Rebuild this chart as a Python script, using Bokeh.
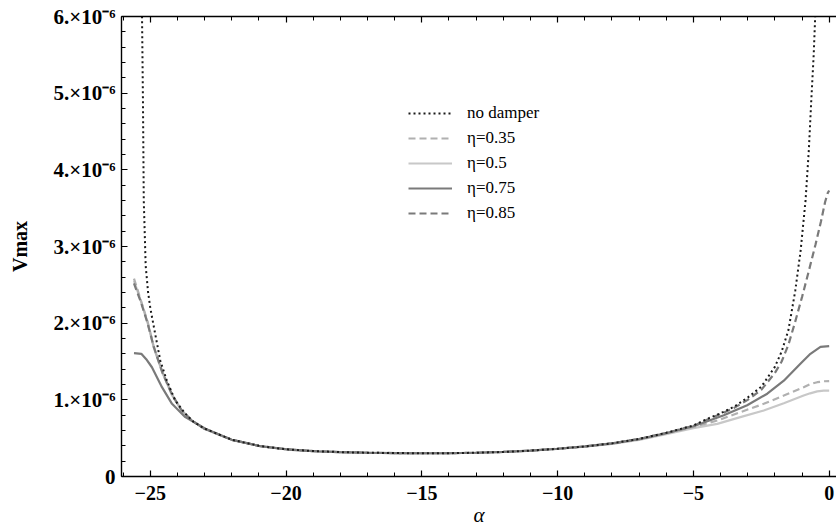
from bokeh.plotting import figure
from bokeh.models import FixedTicker, LinearAxis, Legend, LegendItem, Range1d, CustomLabelingPolicy
from bokeh.embed import file_html
from bokeh.resources import INLINE

# Vmax values are in units of 1e-6
alpha_nodamper = [-25.31, -25.27, -25.24, -25.17, -25.08, -25.00, -24.82, -24.63, -24.39, -24.08,
                  -23.71, -23.40, -23.00, -22.00, -21.00, -20.00, -19.00, -18.00, -17.00, -16.00,
                  -15.00, -14.00, -13.00, -12.00, -11.00, -10.00, -9.00, -8.00, -7.00, -6.00,
                  -5.00, -4.50, -4.00, -3.50, -3.00, -2.50, -2.00, -1.75, -1.50, -1.25,
                  -1.05, -0.87, -0.75, -0.66, -0.57, -0.52, -0.48]
vmax_nodamper = [6.20, 4.90, 3.60, 2.75, 2.40, 2.20, 1.86, 1.51, 1.25, 0.99,
                 0.82, 0.71, 0.625, 0.48, 0.40, 0.355, 0.332, 0.318, 0.31, 0.306,
                 0.303, 0.304, 0.31, 0.32, 0.338, 0.362, 0.392, 0.432, 0.49, 0.57,
                 0.665, 0.75, 0.825, 0.91, 1.03, 1.17, 1.43, 1.63, 1.91, 2.42,
                 2.95, 3.60, 4.25, 4.90, 5.50, 5.95, 6.30]

alpha_035 = [-25.60, -25.50, -25.35, -25.10, -24.87, -24.56, -24.20, -23.84, -23.47, -23.00,
             -22.00, -21.00, -20.00, -19.00, -18.00, -17.00, -16.00, -15.00, -14.00, -13.00,
             -12.00, -11.00, -10.00, -9.00, -8.00, -7.00, -6.00, -5.00, -4.12, -3.27,
             -2.41, -1.67, -0.94, -0.70, -0.44, -0.20, 0.00]
vmax_035 = [2.58, 2.47, 2.30, 2.02, 1.69, 1.37, 1.07, 0.86, 0.73, 0.62,
            0.478, 0.40, 0.355, 0.332, 0.318, 0.31, 0.306, 0.303, 0.304, 0.31,
            0.32, 0.338, 0.362, 0.39, 0.428, 0.483, 0.56, 0.645, 0.73, 0.839,
            0.948, 1.056, 1.165, 1.205, 1.23, 1.242, 1.245]

alpha_05 = [-25.60, -25.50, -25.35, -25.10, -24.87, -24.56, -24.20, -23.84, -23.47, -23.00,
            -22.00, -21.00, -20.00, -19.00, -18.00, -17.00, -16.00, -15.00, -14.00, -13.00,
            -12.00, -11.00, -10.00, -9.00, -8.00, -7.00, -6.00, -5.00, -4.12, -3.27,
            -2.41, -1.67, -0.94, -0.70, -0.44, -0.20, 0.00]
vmax_05 = [2.55, 2.45, 2.29, 2.01, 1.68, 1.36, 1.06, 0.855, 0.728, 0.62,
           0.478, 0.40, 0.355, 0.332, 0.318, 0.31, 0.306, 0.303, 0.304, 0.31,
           0.32, 0.337, 0.36, 0.388, 0.425, 0.478, 0.552, 0.63, 0.687, 0.774,
           0.861, 0.956, 1.056, 1.085, 1.11, 1.12, 1.12]

alpha_075 = [-25.60, -25.33, -25.15, -24.94, -24.57, -24.20, -23.71, -22.97, -22.00, -20.89,
             -19.79, -18.80, -18.00, -17.00, -16.00, -15.00, -14.00, -13.00, -12.00, -11.00,
             -10.00, -9.00, -8.00, -7.00, -6.00, -5.00, -4.74, -3.88, -3.02, -2.28,
             -1.67, -1.06, -0.69, -0.32, 0.00]
vmax_075 = [1.61, 1.60, 1.53, 1.425, 1.165, 0.948, 0.774, 0.622, 0.478, 0.391,
            0.348, 0.326, 0.318, 0.31, 0.306, 0.303, 0.304, 0.31, 0.32, 0.338,
            0.362, 0.392, 0.432, 0.488, 0.565, 0.655, 0.687, 0.80, 0.93, 1.08,
            1.25, 1.47, 1.60, 1.69, 1.70]

alpha_085 = [-25.60, -25.50, -25.35, -25.10, -24.87, -24.56, -24.20, -23.84, -23.47, -23.00,
             -22.00, -21.00, -20.00, -19.00, -18.00, -17.00, -16.00, -15.00, -14.00, -13.00,
             -12.00, -11.00, -10.00, -9.00, -8.00, -7.00, -6.00, -5.00, -4.50, -4.00,
             -3.50, -3.00, -2.50, -2.00, -1.75, -1.50, -1.25, -1.00, -0.75, -0.50,
             -0.30, -0.15, -0.05, 0.00]
vmax_085 = [2.52, 2.42, 2.28, 2.00, 1.69, 1.36, 1.07, 0.86, 0.73, 0.622,
            0.48, 0.40, 0.355, 0.332, 0.318, 0.31, 0.306, 0.303, 0.304, 0.31,
            0.32, 0.338, 0.362, 0.392, 0.432, 0.49, 0.568, 0.66, 0.74, 0.815,
            0.895, 1.00, 1.13, 1.35, 1.50, 1.72, 2.02, 2.34, 2.68, 3.03,
            3.33, 3.58, 3.70, 3.73]

series_labels = ["no damper", "\u03b7=0.35", "\u03b7=0.5", "\u03b7=0.75", "\u03b7=0.85"]

x_major = [-25, -20, -15, -10, -5, 0]
x_major_labels = ["\u221225", "\u221220", "\u221215", "\u221210", "\u22125", "0"]
y_major = [0, 1, 2, 3, 4, 5, 6]
y_major_labels = ["0", "1.\u00d710\u207b\u2076", "2.\u00d710\u207b\u2076", "3.\u00d710\u207b\u2076",
                  "4.\u00d710\u207b\u2076", "5.\u00d710\u207b\u2076", "6.\u00d710\u207b\u2076"]

SERIF = "Liberation Serif"

p = figure(width=836, height=532, output_backend="svg", toolbar_location=None,
           x_range=Range1d(-26.06, 0.27), y_range=Range1d(0, 6),
           min_border_left=121, min_border_right=0, min_border_top=16, min_border_bottom=56)
p.grid.visible = False
p.outline_line_color = None
p.background_fill_color = "white"
p.border_fill_color = "white"

x_ticker = FixedTicker(ticks=x_major, minor_ticks=list(range(-26, 1)))
y_ticker = FixedTicker(ticks=y_major, minor_ticks=[i / 5 for i in range(31)])


def style_axis(ax):
    ax.axis_line_color = "black"
    ax.axis_line_width = 1.4
    ax.major_tick_line_color = "black"
    ax.minor_tick_line_color = "black"
    ax.major_tick_line_width = 1.2
    ax.minor_tick_line_width = 1.0
    ax.major_tick_in = 6
    ax.major_tick_out = 0
    ax.minor_tick_in = 4
    ax.minor_tick_out = 0
    ax.major_label_text_font = SERIF
    ax.major_label_text_font_style = "bold"
    ax.major_label_text_color = "black"
    ax.major_label_text_font_size = "20px"


xa = p.xaxis[0]
xa.ticker = x_ticker
style_axis(xa)
xa.major_label_overrides = dict(zip(x_major, x_major_labels))
xa.major_label_standoff = 9
xa.axis_label = "\u03b1"
xa.axis_label_text_font = SERIF
xa.axis_label_text_font_style = "italic"
xa.axis_label_text_font_size = "21px"
xa.axis_label_text_color = "black"
xa.axis_label_standoff = 0

ya = p.yaxis[0]
ya.ticker = y_ticker
style_axis(ya)
ya.major_label_text_font_size = "21px"
ya.major_label_overrides = dict(zip(y_major, y_major_labels))
ya.major_label_standoff = 6
ya.axis_label = "Vmax"
ya.axis_label_text_font = SERIF
ya.axis_label_text_font_style = "bold"
ya.axis_label_text_font_size = "20px"
ya.axis_label_text_color = "black"
ya.axis_label_standoff = 19

top = LinearAxis(ticker=x_ticker)
style_axis(top)
top.major_label_text_font_size = "0px"
top.major_label_standoff = 0
top.major_label_policy = CustomLabelingPolicy(
    code="for (const i of indices) { indices.unset(i) }\nreturn indices")
p.add_layout(top, "above")

r05 = p.line(alpha_05, vmax_05, line_color="#c8c8c8", line_width=2.2)
r035 = p.line(alpha_035, vmax_035, line_color="#b0b0b0", line_width=2.2, line_dash="7 4")
r075 = p.line(alpha_075, vmax_075, line_color="#7a7a7a", line_width=2.2)
r085 = p.line(alpha_085, vmax_085, line_color="#7a7a7a", line_width=2.2, line_dash="7 4")
rnd = p.line(alpha_nodamper, vmax_nodamper, line_color="#1a1a1a", line_width=2.0, line_dash="2 3")

legend = Legend(items=[LegendItem(label=series_labels[0], renderers=[rnd]),
                       LegendItem(label=series_labels[1], renderers=[r035]),
                       LegendItem(label=series_labels[2], renderers=[r05]),
                       LegendItem(label=series_labels[3], renderers=[r075]),
                       LegendItem(label=series_labels[4], renderers=[r085])],
                location=(287, 253), glyph_width=44, glyph_height=20, label_height=20,
                spacing=5, padding=0, margin=0, label_standoff=15,
                border_line_color=None, background_fill_alpha=0,
                label_text_font=SERIF, label_text_font_size="17px", label_text_color="black")
p.add_layout(legend)

open("out.html", "w").write(file_html(p, INLINE))
